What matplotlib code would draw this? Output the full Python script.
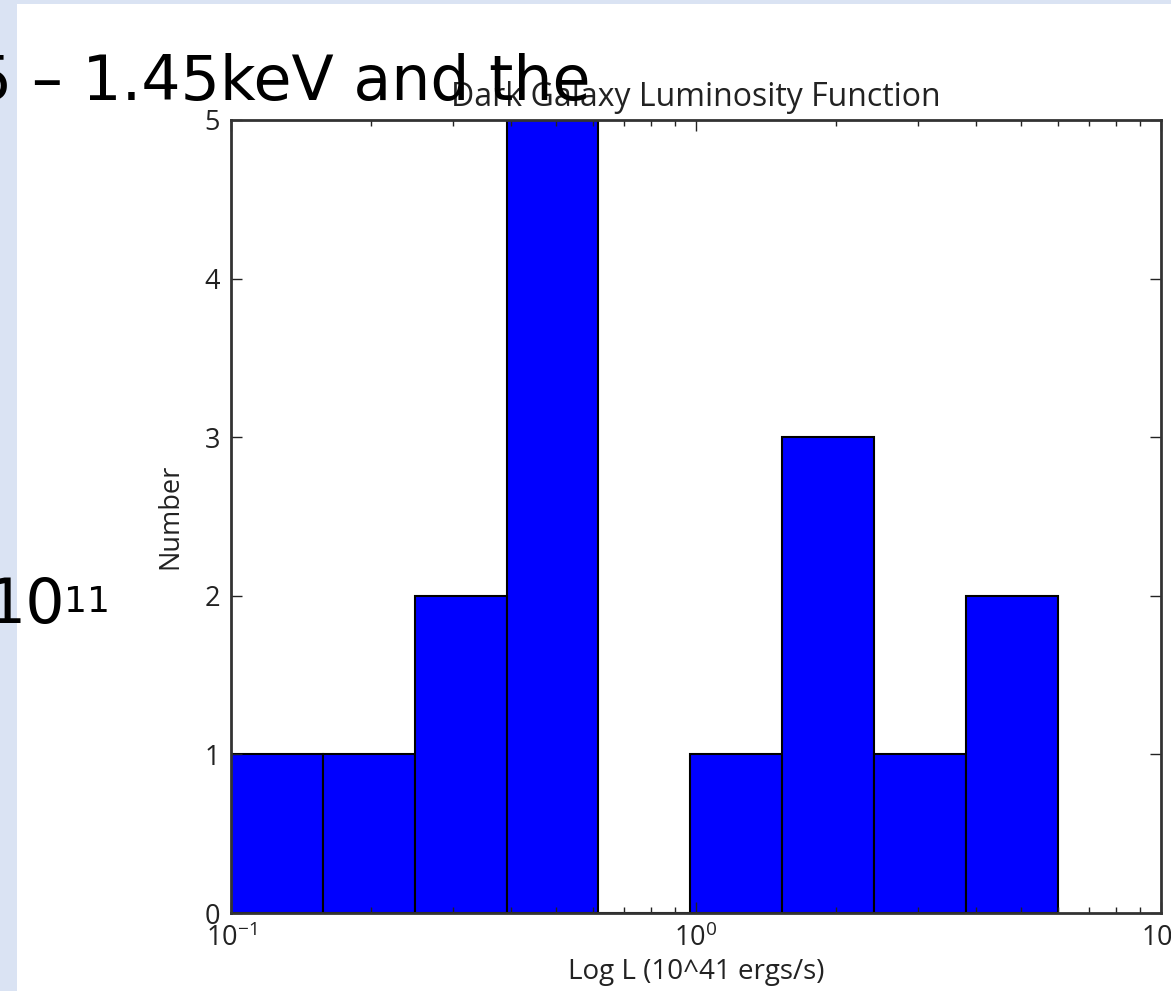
import matplotlib
matplotlib.use('Agg')
import matplotlib.pyplot as plt
from matplotlib.patches import Rectangle
import numpy as np

# histogram: bin edges in log10 L (min..max of the sample) and counts per bin
log_edges = [-1.0, -0.802, -0.605, -0.407, -0.210, -0.012, 0.185, 0.383, 0.580, 0.778]
counts = [1, 1, 2, 5, 0, 1, 3, 1, 2]

title = 'Dark Galaxy Luminosity Function'
xlabel = 'Log L (10^41 ergs/s)'
ylabel = 'Number'

plt.rcParams['font.family'] = ['Open Sans', 'DejaVu Sans']
plt.rcParams['mathtext.fontset'] = 'custom'
plt.rcParams['mathtext.rm'] = 'Open Sans'
plt.rcParams['mathtext.default'] = 'regular'

fig = plt.figure(figsize=(11.71, 9.91), dpi=100)
fig.patch.set_facecolor('white')

# slide background strips (left and top)
bg = '#dae3f3'
fig.patches.append(Rectangle((0, 0), 17/1171, 1, transform=fig.transFigure,
                             facecolor=bg, edgecolor='none', zorder=0))
fig.patches.append(Rectangle((0, 1-4/991), 1, 4/991, transform=fig.transFigure,
                             facecolor=bg, edgecolor='none', zorder=0))

ax = fig.add_axes([231/1171, 1-913/991, 930/1171, 793/991])

edges = 10 ** np.array(log_edges)
centers = np.sqrt(edges[:-1] * edges[1:])
ax.hist(centers, bins=edges, weights=counts, color='#0000ff',
        edgecolor='black', linewidth=1.5)

ax.set_xscale('log')
ax.set_xlim(0.1, 10)
ax.set_ylim(0, 5)
ax.set_yticks([0, 1, 2, 3, 4, 5])

ax.tick_params(which='both', direction='in', top=True, right=True,
               labelsize=19.5, colors='#222222')
ax.tick_params(which='major', length=8, width=1, pad=8)
ax.tick_params(which='minor', length=4, width=1)
for s in ax.spines.values():
    s.set_linewidth(2)
    s.set_color('#333333')

ax.set_title(title, fontsize=23, pad=10, color='#222222')
ax.set_xlabel(xlabel, fontsize=20, color='#222222', labelpad=4)
ax.set_ylabel(ylabel, fontsize=19.5, color='#222222', labelpad=14)

# slide text behind/over the chart
fig.text(-27/1171, 1-100/991, '5 \u2013 1.45keV and the', fontsize=44.5,
         family='DejaVu Sans', color='black', ha='left', va='baseline')
fig.text(-14/1171, 1-623/991, '10', fontsize=44.5,
         family='DejaVu Sans', color='black', ha='left', va='baseline')
fig.text(64/1171, 1-612/991, '11', fontsize=26,
         family='DejaVu Sans', color='black', ha='left', va='baseline')

fig.savefig('out.png', dpi=100)
